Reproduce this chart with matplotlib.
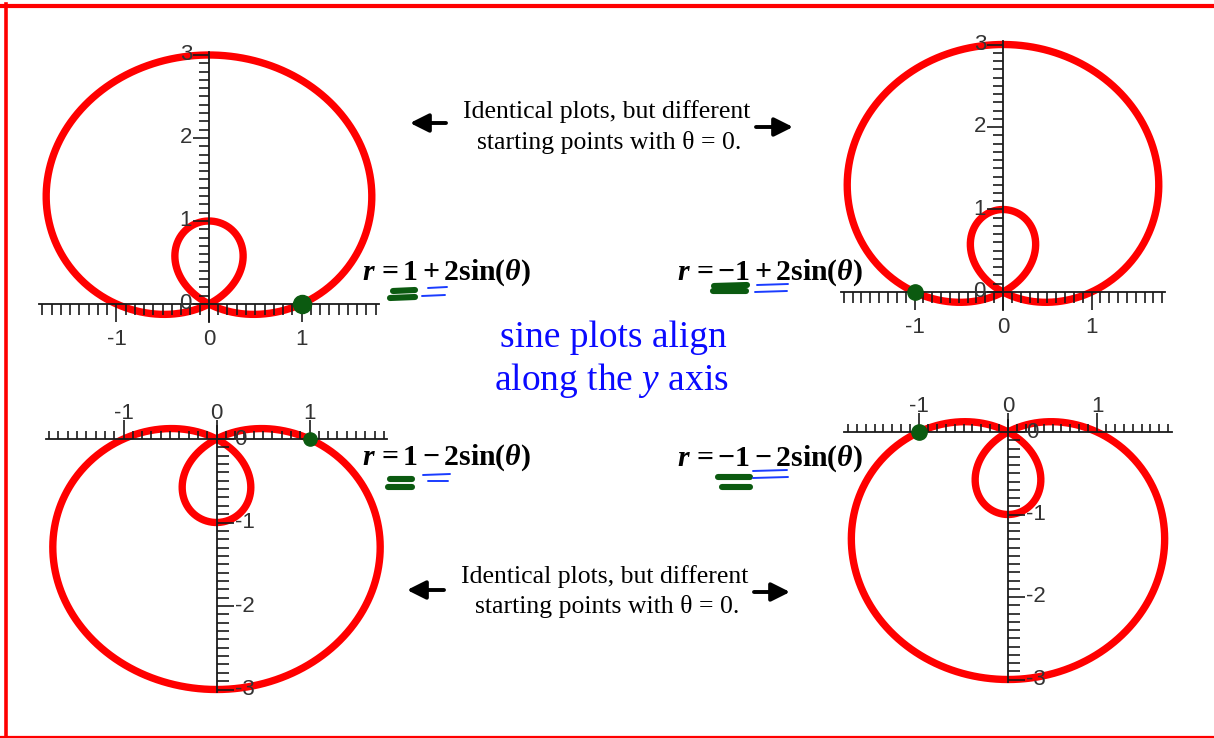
import numpy as np
import matplotlib
matplotlib.use("Agg")
import matplotlib.pyplot as plt
from matplotlib.lines import Line2D
from matplotlib.patches import FancyArrowPatch, ArrowStyle
from matplotlib.collections import LineCollection

plt.rcParams["mathtext.fontset"] = "custom"
plt.rcParams["mathtext.rm"] = "Liberation Serif:bold"
plt.rcParams["mathtext.it"] = "Liberation Serif:italic"
plt.rcParams["mathtext.bf"] = "Liberation Serif:bold"
plt.rcParams["mathtext.bfit"] = "Liberation Serif:italic:bold"

# ---- data: r = a + b*sin(theta) for each panel ----
coef_a = [1, -1, 1, -1]
coef_b = [2, 2, -2, -2]
equations = [
    r"$\mathbfit{r}\,\mathbf{=1+2sin(}\mathbfit{\theta}\mathbf{)}$",
    r"$\mathbfit{r}\,\mathbf{=-1+2sin(}\mathbfit{\theta}\mathbf{)}$",
    r"$\mathbfit{r}\,\mathbf{=1-2sin(}\mathbfit{\theta}\mathbf{)}$",
    r"$\mathbfit{r}\,\mathbf{=-1-2sin(}\mathbfit{\theta}\mathbf{)}$",
]
x_major = [-1, 0, 1]
x_major_labels = ["-1", "0", "1"]
y_major_up = [0, 1, 2, 3]
y_major_up_labels = ["0", "1", "2", "3"]
y_major_down = [0, -1, -2, -3]
y_major_down_labels = ["0", "-1", "-2", "-3"]
note_lines = ["Identical plots, but different", "starting points with \u03b8 = 0."]
center_lines = ["sine plots align", "along the $\\mathit{y}$ axis"]

# ---- layout (pixels) ----
W, H = 1214, 738
fig = plt.figure(figsize=(W / 100, H / 100), dpi=100)


def fx(x):
    return x / W


def fy(y):
    return 1 - y / H


panels = [
    dict(origin=(209, 304), sx=92.5, sy=83.0, up=True, xext=1.84, eq=(362, 272), dot=13),
    dict(origin=(1003, 292), sx=88.5, sy=82.5, up=True, xext=1.83, eq=(677, 272), dot=11),
    dict(origin=(216.5, 439), sx=93.0, sy=83.5, up=False, xext=1.83, eq=(362, 457), dot=9.5),
    dict(origin=(1008, 432), sx=89.0, sy=82.5, up=False, xext=1.84, eq=(677, 458), dot=11),
]

RED = "#ff0000"
AXC = "#1a1a1a"
LBL = "#333333"
GREEN = "#0b5a10"
theta = np.linspace(0, 2 * np.pi, 1441)

for i, p in enumerate(panels):
    ox, oy = p["origin"]
    sx, sy = p["sx"], p["sy"]
    xlim = (-1.95, 1.95)
    ylim = (-0.45, 3.25) if p["up"] else (-3.25, 0.45)
    left = (ox + xlim[0] * sx) / W
    width = (xlim[1] - xlim[0]) * sx / W
    bottom = 1 - (oy - ylim[0] * sy) / H
    height = (ylim[1] - ylim[0]) * sy / H
    ax = fig.add_axes([left, bottom, width, height])
    ax.set_xlim(*xlim)
    ax.set_ylim(*ylim)
    ax.axis("off")

    a, b = coef_a[i], coef_b[i]
    r = a + b * np.sin(theta)
    ax.plot(r * np.cos(theta), r * np.sin(theta), color=RED, lw=5.3,
            solid_capstyle="round", zorder=2)

    # axes through the origin
    xe = p["xext"]
    ax.plot([-xe, xe], [0, 0], color=AXC, lw=1.3, zorder=3)
    if p["up"]:
        ax.plot([0, 0], [-0.22, 3.04], color=AXC, lw=1.3, zorder=3)
    else:
        ax.plot([0, 0], [0.15, -3.03], color=AXC, lw=1.3, zorder=3)

    segs = []
    xticks = np.arange(-18, 19) / 10.0
    for t in xticks:
        major = abs(t - round(t)) < 1e-9
        if p["up"]:
            ln = (18 if major else 11) / sy
            segs.append([(t, 0), (t, -ln)])
        else:
            ln = (19 if major else 8) / sy
            segs.append([(t, 0), (t, ln)])
    for k in range(0, 31):
        t = k / 10.0 if p["up"] else -k / 10.0
        major = k % 10 == 0
        if p["up"]:
            ln = (16 if major else 10) / sx
            segs.append([(0, t), (-ln, t)])
        else:
            ln = (17 if major else 12) / sx
            segs.append([(0, t), (ln, t)])
    ax.add_collection(LineCollection(segs, colors=AXC, linewidths=1.2, zorder=3))

    # tick labels
    for v, s in zip(x_major, x_major_labels):
        yl = -36 / sy if p["up"] else 26 / sy
        ax.text(v, yl, s, ha="center", va="center", fontsize=16,
                family="Liberation Sans", color=LBL, zorder=4)
    if p["up"]:
        for v, s in zip(y_major_up, y_major_up_labels):
            ax.text(-17 / sx, v, s, ha="right", va="center", fontsize=16,
                    family="Liberation Sans", color=LBL, zorder=4)
    else:
        for v, s in zip(y_major_down, y_major_down_labels):
            ax.text(18 / sx, v, s, ha="left", va="center", fontsize=16,
                    family="Liberation Sans", color=LBL, zorder=4)

    # starting point at theta = 0
    r0 = a + b * np.sin(0.0)
    ax.plot([r0 * np.cos(0.0)], [r0 * np.sin(0.0)], "o", color=GREEN,
            ms=p["dot"], mec=GREEN, zorder=5)

    ex, ey = p["eq"]
    fig.text(fx(ex), fy(ey + 1), equations[i], ha="left", va="center",
             fontsize=21.5, color="black")

# notes between the panels
for (cx, y1, y2) in [(607, 111, 141), (605, 576, 606)]:
    fig.text(fx(cx), fy(y1 + 1), note_lines[0], ha="center", va="center",
             fontsize=18.5, family="Liberation Serif", color="black")
    fig.text(fx(cx + 2), fy(y2 + 1), note_lines[1], ha="center", va="center",
             fontsize=18.5, family="Liberation Serif", color="black")

plt.rcParams["mathtext.rm"] = "Liberation Serif"
fig.text(fx(613), fy(338), center_lines[0], ha="center", va="center",
         fontsize=27, family="Liberation Serif", color="#0a0aff")
fig.text(fx(611), fy(380), center_lines[1], ha="center", va="center",
         fontsize=27, family="Liberation Serif", color="#0a0aff")

# arrows
style = ArrowStyle("-|>", head_length=0.7, head_width=0.35)
for (x0, y0, x1, y1) in [(446, 123, 410, 123), (756, 127, 793, 127),
                         (444, 590, 407, 590), (754, 592, 790, 592)]:
    fig.add_artist(FancyArrowPatch((fx(x0), fy(y0)), (fx(x1), fy(y1)),
                                   transform=fig.transFigure, arrowstyle=style,
                                   mutation_scale=16, lw=2.8, color="black",
                                   shrinkA=0, shrinkB=0))

# hand-drawn underline marks
green_marks = [
    [(393, 291, 415, 290), (390, 298, 415, 297)],
    [(714, 286, 747, 285), (713, 291, 746, 291)],
    [(390, 479, 412, 479), (388, 487, 412, 487)],
    [(718, 477, 750, 477), (722, 487, 750, 487)],
]
blue_marks = [
    [(428, 288, 447, 287), (422, 296, 445, 295)],
    [(757, 285, 788, 284), (755, 292, 787, 291)],
    [(423, 475, 450, 474), (428, 481, 448, 481)],
    [(753, 471, 787, 470), (753, 478, 788, 477)],
]
for marks in green_marks:
    for (x0, y0, x1, y1) in marks:
        fig.add_artist(Line2D([fx(x0), fx(x1)], [fy(y0), fy(y1)],
                              transform=fig.transFigure, color=GREEN, lw=4.4,
                              solid_capstyle="round"))
for marks in blue_marks:
    for (x0, y0, x1, y1) in marks:
        fig.add_artist(Line2D([fx(x0), fx(x1)], [fy(y0), fy(y1)],
                              transform=fig.transFigure, color="#1a3cff", lw=1.4,
                              solid_capstyle="round"))

# red frame (top, left, bottom)
fig.add_artist(Line2D([0, 1], [fy(6), fy(6)], transform=fig.transFigure,
                      color=RED, lw=3.0))
fig.add_artist(Line2D([fx(5.5), fx(5.5)], [fy(4), 0], transform=fig.transFigure,
                      color=RED, lw=2.6))
fig.add_artist(Line2D([0, 1], [fy(737), fy(737)], transform=fig.transFigure,
                      color=RED, lw=1.6))

fig.savefig("out.png", dpi=100, facecolor="white")
